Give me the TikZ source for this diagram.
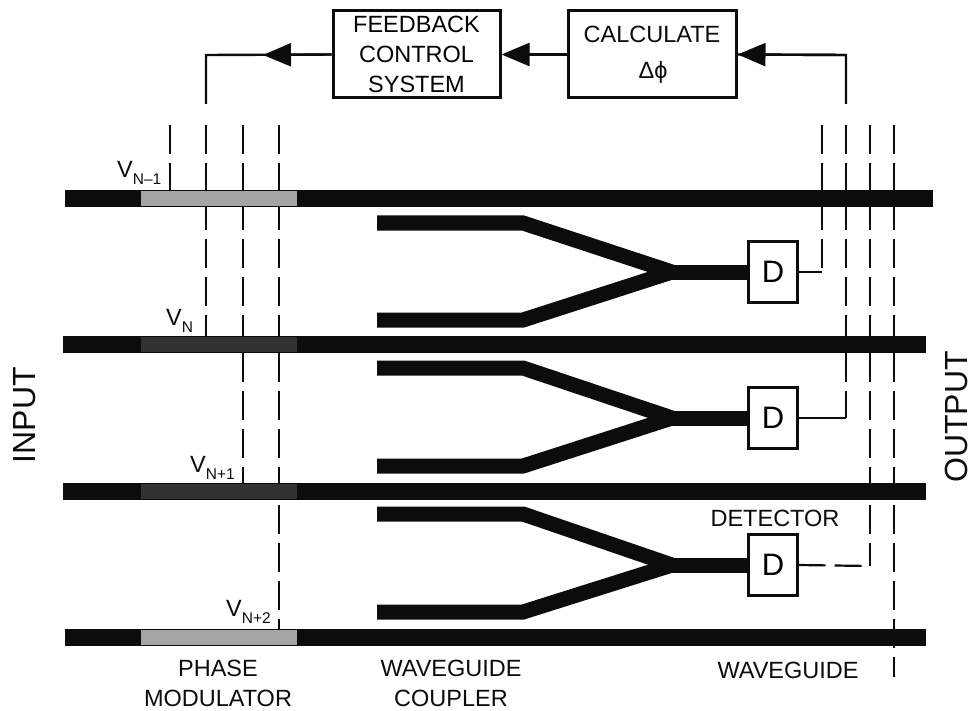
\documentclass[tikz,border=0pt]{standalone}
\usepackage{fontspec}
\setmainfont{Liberation Sans}
\usetikzlibrary{arrows.meta,positioning}
\definecolor{wgblack}{RGB}{12,12,12}
\definecolor{modlight}{RGB}{165,165,165}
\definecolor{moddark}{RGB}{50,50,50}
\newcommand{\lblfont}{\fontsize{23.5}{30}\selectfont}
\newcommand{\sidefont}{\fontsize{32}{32}\selectfont}
\newcommand{\Vlabel}[1]{V\raisebox{-7pt}{\fontsize{15.5}{15.5}\selectfont #1}}
\tikzset{
  ctrlbox/.style={draw=wgblack, line width=3pt, fill=white, inner sep=0pt, font=\lblfont, align=center},
  detbox/.style={draw=wgblack, line width=2.4pt, fill=white, inner sep=0pt, minimum width=49pt, minimum height=61pt, font=\fontsize{31}{31}\selectfont},
  lbl/.style={inner sep=0pt, font=\lblfont, align=center, text=wgblack},
  sidelbl/.style={inner sep=0pt, font=\sidefont, rotate=90, text=wgblack},
  vlbl/.style={inner sep=0pt, anchor=base west, font=\lblfont, text=wgblack},
  sigline/.style={draw=wgblack, line width=2.4pt},
  dashline/.style={draw=wgblack, line width=2.4pt, dash pattern=on 29pt off 9pt},
  bigarrow/.style={sigline, -{Triangle[length=28pt,width=23pt]}},
  armline/.style={draw=wgblack, line width=15pt, line join=miter}
}
\begin{document}
\begin{tikzpicture}[x=1pt,y=-1pt]
  \useasboundingbox (0,0) rectangle (973,711);

  % Control boxes
  \node[ctrlbox, minimum width=167pt, minimum height=87pt] (feedback) at (416.5,54.5) {FEEDBACK\\CONTROL\\SYSTEM};
  \node[ctrlbox, minimum width=168pt, minimum height=87pt] (calc) at (652,54.5) {};
  \node[lbl, anchor=base] (calctext) at (652,43) {CALCULATE};
  \node[lbl, anchor=base] (calcphase) at (653,79) {Δϕ};

  % Free ends of the lines
  \coordinate (fbcorner) at (206,55);
  \coordinate (fbend) at (206,104);
  \coordinate (fbarrow) at (263,55);
  \coordinate (incorner) at (846,55);
  \coordinate (inend) at (846,104);

  % Feedback loop
  \draw[bigarrow] (calc.west) -- (feedback.east);
  \draw[sigline] (feedback.west) -- (fbcorner) -- (fbend);
  \draw[bigarrow] (feedback.west) -- (fbarrow);
  \draw[sigline] (inend) -- (incorner) -- (calc.east);
  \draw[bigarrow] (incorner) -- (calc.east);

  % Dashed lines, left side
  \foreach \xa/\yb in {170/190, 206/336, 243/483, 279/629}
    \draw[dashline] (\xa,125) -- (\xa,\yb);

  % Detectors
  \foreach \dname/\yc/\ya/\yb in {d1/272/223/320, d2/418/368/466, d3/565/514/612} {
    \draw[armline] (377,\ya) -- (523,\ya) -- (672,\yc);
    \draw[armline] (377,\yb) -- (523,\yb) -- (672,\yc);
    \draw[armline] (665,\yc) -- (752,\yc);
    \node[detbox] (\dname) at (773,\yc) {D};
  }

  % Dashed lines, right side
  \coordinate (d1turn) at (822,272);
  \coordinate (d2turn) at (846,418);
  \coordinate (d3turn) at (870,566);
  \draw[dashline] (822,125) -- (822,268);
  \draw[sigline] (d1.east) -- (d1turn);
  \draw[dashline] (846,125) -- (d2turn);
  \draw[sigline] (d2.east) -- (d2turn);
  \draw[dashline] (870,125) -- (d3turn);
  \draw[draw=wgblack, line width=2.2pt, dash pattern=on 27pt off 9pt] (d3.east) -- (d3turn);
  \draw[dashline] (894,125) -- (894,677);

  % Waveguides and modulators
  \foreach \xa/\xb/\yc/\modcol in {65/933/199/modlight, 63/926/344.5/moddark, 63/926/491.5/moddark, 65/926/637.5/modlight} {
    \fill[wgblack] (\xa,\yc-8.5) rectangle (\xb,\yc+8.5);
    \fill[\modcol] (141,\yc-7.5) rectangle (297,\yc+7.5);
  }

  % Voltage labels
  \node[vlbl] (vnm) at (117,178) {\Vlabel{N--1}};
  \node[vlbl] (vn) at (166,325) {\Vlabel{N}};
  \node[vlbl] (vnp) at (190,472) {\Vlabel{N+1}};
  \node[vlbl] (vnpp) at (226,616) {\Vlabel{N+2}};

  % Part labels
  \node[lbl, anchor=base] (phase) at (218,706) {PHASE\\MODULATOR};
  \node[lbl, anchor=base] (coupler) at (451,706) {WAVEGUIDE\\COUPLER};
  \node[lbl, anchor=base] (wguide) at (788,678) {WAVEGUIDE};
  \node[lbl, anchor=base] (detector) at (775,526) {DETECTOR};
  \node[sidelbl] (input) at (25,415) {INPUT};
  \node[sidelbl] (output) at (956,417) {OUTPUT};
\end{tikzpicture}
\end{document}
